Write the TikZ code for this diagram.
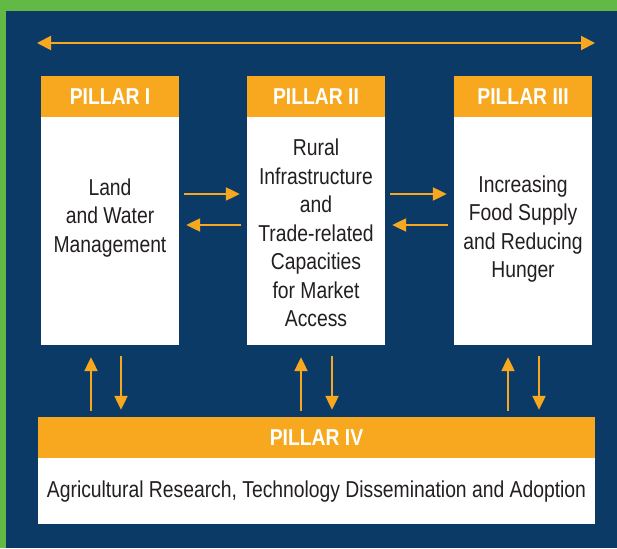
\documentclass[tikz,border=0pt]{standalone}
\usepackage{fontspec}
\setmainfont[FakeStretch=0.84]{Liberation Sans}
\usetikzlibrary{arrows.meta,calc}
\definecolor{navy}{HTML}{0C3A67}
\definecolor{amber}{HTML}{F7A81E}
\definecolor{leaf}{HTML}{63B946}
\definecolor{ink}{HTML}{231F20}

\begin{document}
\begin{tikzpicture}[x=1pt,y=-1pt,
  head/.style={fill=amber,text=white,font=\fontsize{23}{24}\selectfont\bfseries,
    minimum width=138pt,minimum height=41pt,inner sep=0pt},
  body/.style={fill=white,minimum width=138pt,minimum height=228pt,inner sep=0pt},
  txt/.style={text=ink,align=center,font=\fontsize{23}{28.5}\selectfont},
  arr/.style={-{Triangle[length=14pt,width=13pt]},line width=2.2pt,draw=amber},
  arrboth/.style={{Triangle[length=14pt,width=14pt]}-{Triangle[length=14pt,width=14pt]},
    line width=2pt,draw=amber}]
\fill[leaf] (0,0) rectangle (617,548);
\fill[navy] (6,11) rectangle (617,548);
\path[use as bounding box] (0,0) rectangle (617,548);

% All four pillars are linked to one another.
\coordinate (tl) at (37,43);
\coordinate (tr) at (595,43);
\draw[arrboth] (tl) -- (tr);

% Pillars I to III: orange heading over a white column.
\foreach \n/\x/\lab/\dy/\txt in {1/110/PILLAR I/-13/{Land\\and Water\\Management},
  2/316/PILLAR II/2/{Rural\\Infrastructure\\and\\Trade-related\\Capacities\\for Market\\Access},
  3/523/PILLAR III/-2/{Increasing\\Food Supply\\and Reducing\\Hunger}}{
  \node[body] (b\n) at (\x,231) {};
  \node[head,anchor=south] (h\n) at (b\n.north) {\lab};
  \node[txt] (t\n) at ($(b\n.center)+(0,\dy)$) {\txt};
}

% Pillar IV spans the whole width.
\node[head,minimum width=557pt] (h4) at (316.5,437.5) {PILLAR IV};
\node[body,minimum width=557pt,minimum height=66pt,anchor=north] (b4) at (h4.south) {};
\node[txt] (t4) at (b4.center) {Agricultural Research, Technology Dissemination and Adoption};

% Exchanges between neighbouring pillars.
\foreach \a/\b in {1/2,2/3}{
  \draw[arr,shorten <=5pt,shorten >=7pt] ([yshift=37pt]b\a.east) -- ([yshift=37pt]b\b.west);
  \draw[arr,shorten <=6pt,shorten >=7pt] ([yshift=6pt]b\b.west) -- ([yshift=6pt]b\a.east);
}

% Up and down links with Pillar IV.
\foreach \n/\u/\d in {1/-19/11,2/-15/16,3/-15/16}{
  \coordinate (up\n) at ([xshift=\u pt]b\n.south);
  \coordinate (dn\n) at ([xshift=\d pt]b\n.south);
  \draw[arr,shorten <=6pt,shorten >=12pt] (up\n |- h4.north) -- (up\n);
  \draw[arr,shorten <=11pt,shorten >=7pt] (dn\n) -- (dn\n |- h4.north);
}
\end{tikzpicture}
\end{document}
